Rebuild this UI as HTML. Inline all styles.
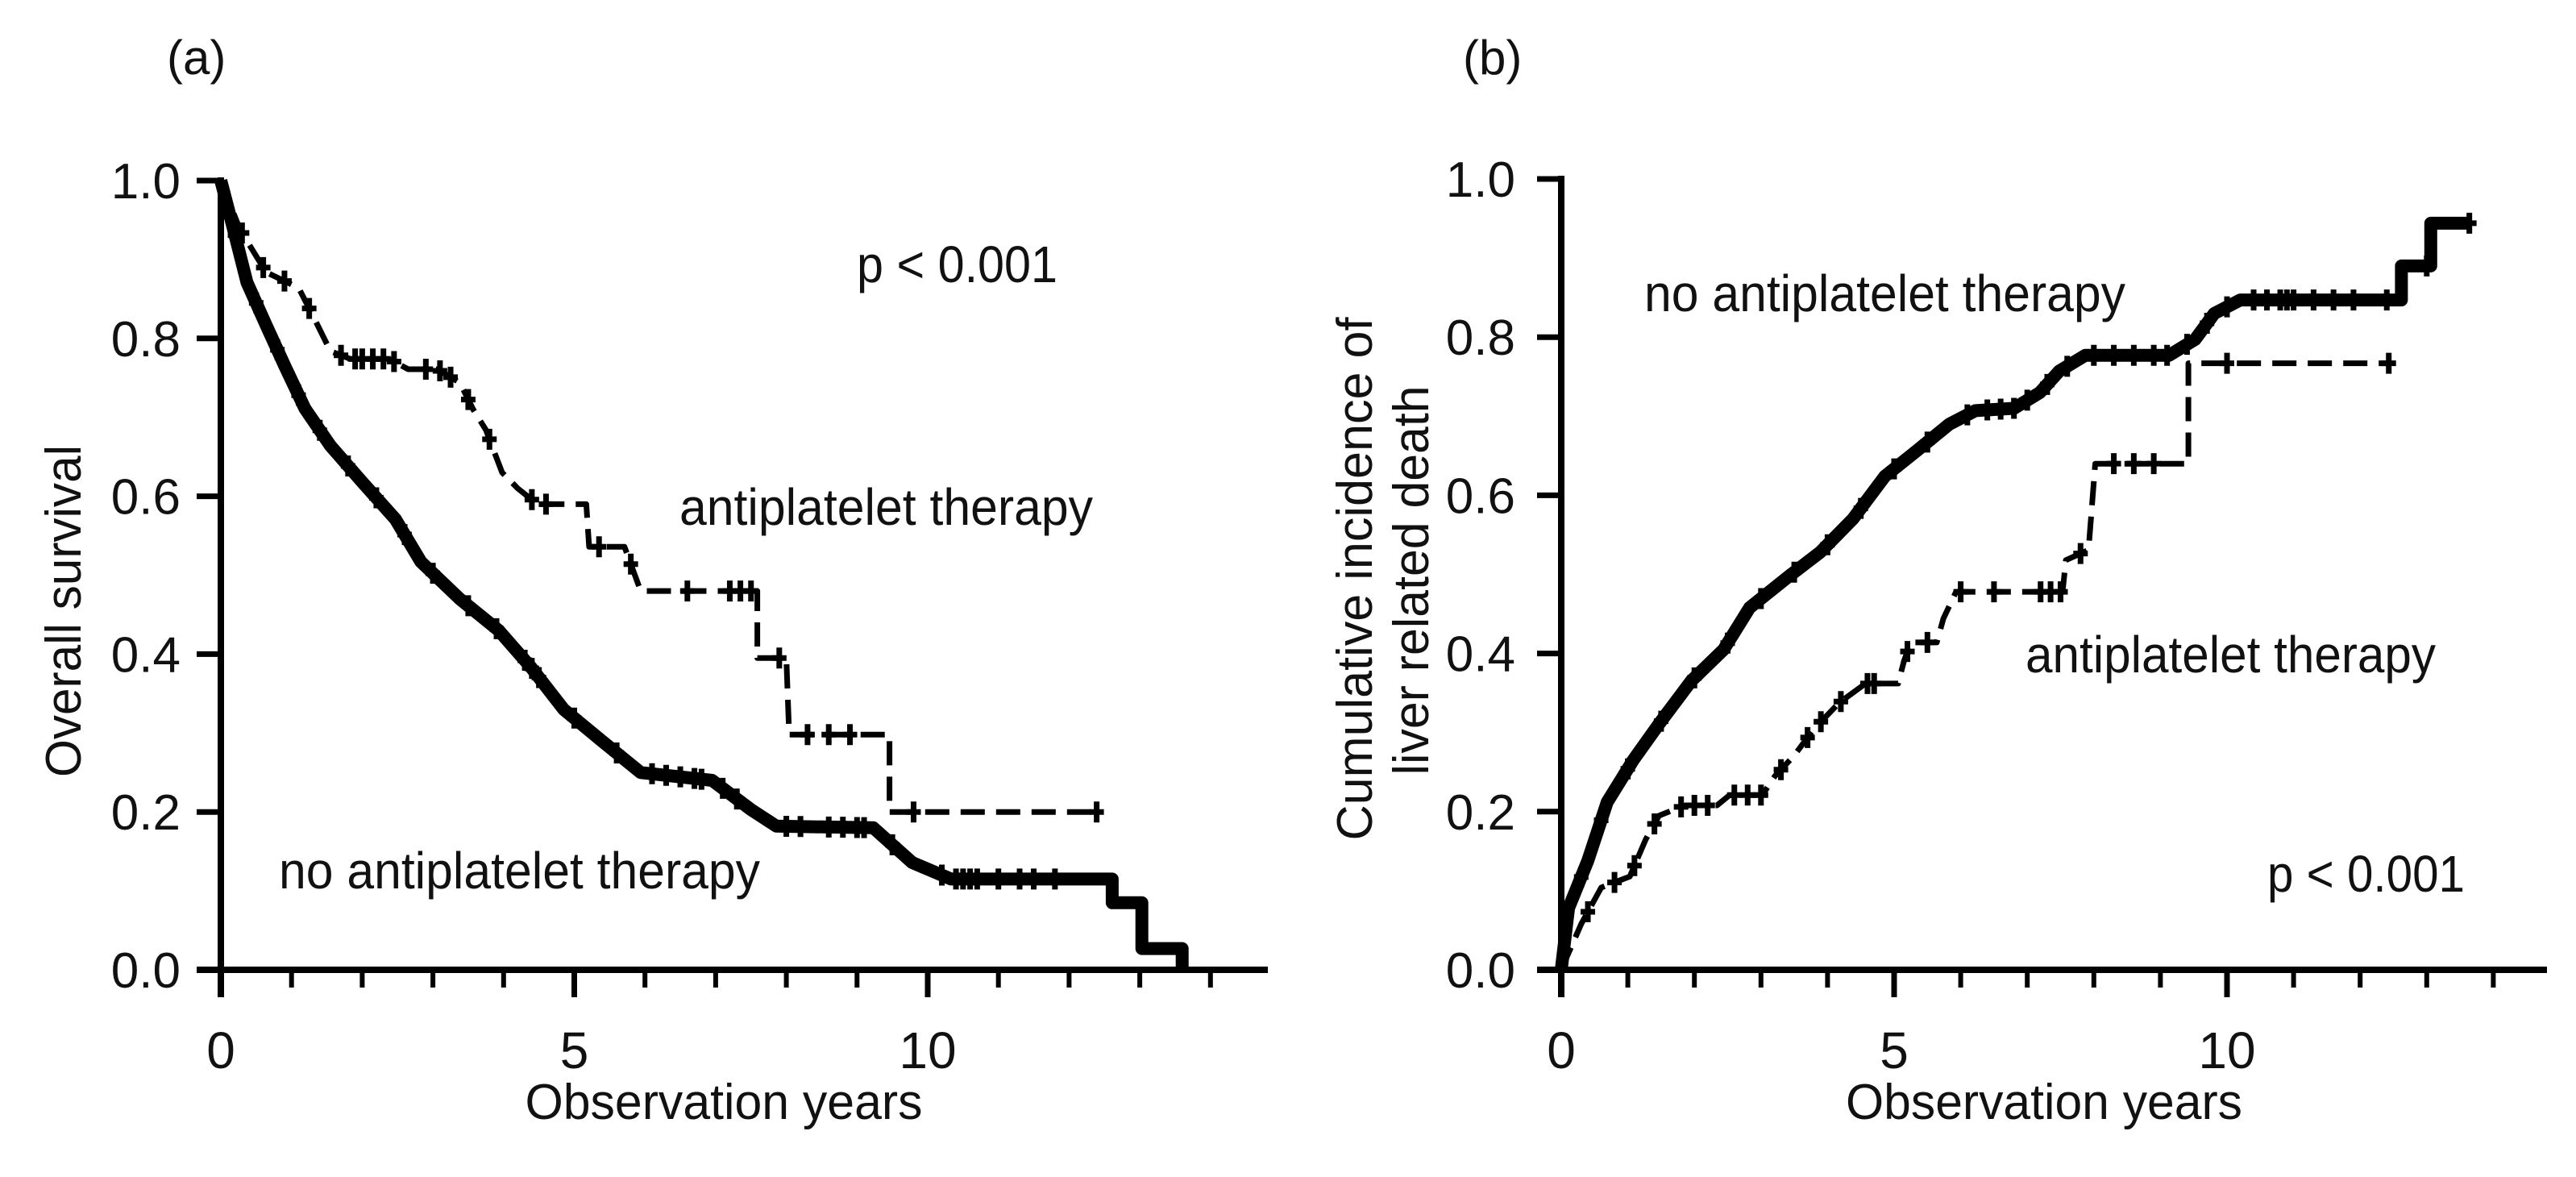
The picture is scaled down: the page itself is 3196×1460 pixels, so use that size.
<!DOCTYPE html>
<html><head><meta charset="utf-8"><style>
html,body{margin:0;padding:0;background:#fff;}
svg{display:block;font-family:"Liberation Sans",Arial,sans-serif;}
</style></head><body>
<svg id="fig" width="3196" height="1460" viewBox="0 0 3196 1460" xmlns="http://www.w3.org/2000/svg">
<rect width="3196" height="1460" fill="#fff"/>
<g id="pa"></g>
<g id="pb"></g>
</svg>
<script>
const yTicks=[0,0.2,0.4,0.6,0.8,1.0];
const yTickLabels=["0.0","0.2","0.4","0.6","0.8","1.0"];
const xMajor=[0,5,10];
const xMinor=[1,2,3,4,6,7,8,9,11,12,13,14];
// panel a: overall survival
const aAntiT=[0,0.27,0.64,1.1,1.33,1.55,1.83,2.38,2.65,3.06,3.38,3.57,3.75,3.98,4.2,4.48,5.17,5.21,5.71,5.94,7.59,7.59,8.0,8.04,9.46,9.46,12.39];
const aAntiV=[1.0,0.938,0.884,0.864,0.824,0.784,0.774,0.774,0.761,0.761,0.744,0.710,0.684,0.630,0.610,0.590,0.590,0.536,0.536,0.480,0.480,0.395,0.395,0.298,0.298,0.2,0.2];
const aAntiCens=[0.3,0.6,0.9,1.25,1.7,1.9,2.0,2.15,2.3,2.45,2.9,3.1,3.25,3.5,3.8,4.4,4.6,5.35,5.8,6.6,7.2,7.35,7.5,7.9,8.3,8.6,8.9,9.8,12.39];
const aNoT=[0,0.18,0.37,0.64,0.91,1.19,1.55,2.01,2.47,2.83,3.38,3.93,4.39,4.85,5.39,5.94,6.95,7.5,7.86,9.23,9.78,10.33,12.61,12.61,13.03,13.03,13.6,13.6];
const aNoV=[1.0,0.938,0.871,0.817,0.764,0.711,0.664,0.617,0.571,0.517,0.470,0.430,0.383,0.330,0.290,0.250,0.240,0.203,0.182,0.180,0.136,0.115,0.115,0.085,0.085,0.027,0.027,0];
const aNoCens=[0.2,0.5,0.8,1.1,1.4,1.8,2.2,2.6,3.0,3.5,3.9,4.3,4.4,4.5,5.0,5.6,6.1,6.3,6.5,6.7,6.8,7.1,7.3,8.0,8.2,8.6,8.8,9.0,9.1,9.5,10.2,10.4,10.5,10.6,10.7,11.0,11.3,11.5,11.8];
// panel b: cumulative incidence
const bNoT=[0,0.11,0.4,0.69,1.08,1.47,1.95,2.44,2.83,3.41,3.89,4.38,4.86,5.35,5.83,6.22,6.8,7.19,7.48,7.87,9.13,9.52,9.81,10.2,12.62,12.62,13.06,13.06,13.64];
const bNoV=[0,0.078,0.138,0.212,0.265,0.311,0.365,0.405,0.458,0.497,0.528,0.570,0.624,0.657,0.690,0.707,0.710,0.730,0.757,0.777,0.777,0.797,0.830,0.847,0.847,0.890,0.890,0.944,0.944];
const bNoCens=[0.3,0.6,1.0,1.5,2.0,2.5,3.0,3.5,4.0,4.5,5.0,5.5,6.1,6.4,6.6,6.8,7.0,7.3,7.6,8.0,8.3,8.6,8.9,9.1,9.4,9.7,10.0,10.4,10.6,10.8,10.9,11.0,11.3,11.6,11.9,12.4,13.0,13.64];
const bAntiT=[0,0.3,0.6,1.03,1.27,1.47,1.86,2.34,2.53,3.02,3.21,3.5,3.8,4.18,4.57,5.06,5.15,5.25,5.64,5.74,5.93,7.53,7.58,7.92,8.02,9.42,9.42,12.43];
const bAntiV=[0,0.058,0.104,0.118,0.165,0.195,0.208,0.208,0.221,0.221,0.245,0.271,0.305,0.338,0.362,0.362,0.391,0.414,0.414,0.444,0.478,0.478,0.518,0.531,0.640,0.640,0.767,0.767];
const bAntiCens=[0.4,0.8,1.1,1.4,1.8,2.0,2.2,2.6,2.8,3.0,3.3,3.7,3.9,4.2,4.6,4.7,5.2,5.5,6.0,6.5,7.2,7.35,7.5,7.8,8.3,8.6,8.9,10.0,12.43];

const NS="http://www.w3.org/2000/svg";
function mk(parent,tag,attrs,text){const e=document.createElementNS(NS,tag);for(const k in attrs)e.setAttribute(k,attrs[k]);if(text!==undefined)e.textContent=text;parent.appendChild(e);return e;}
function interp(T,V,t){for(let i=T.length-1;i>=0;i--){if(T[i]<=t){if(i===T.length-1)return V[i];const t0=T[i],t1=T[i+1];if(t1===t0)return V[i+1];return V[i]+(V[i+1]-V[i])*(t-t0)/(t1-t0);}}return V[0];}

function panel(g,cfg){
  const X=t=>cfg.x0+t*cfg.px;
  const Y=v=>cfg.y0-v*(cfg.y0-cfg.y1);
  // axes
  let e=mk(g,'line',{x1:cfg.x0,y1:Y(1)-4,x2:cfg.x0,y2:cfg.y0+34,stroke:'#000','stroke-width':8});
  
  e=mk(g,'line',{x1:cfg.x0-30,y1:cfg.y0,x2:cfg.xEnd,y2:cfg.y0,stroke:'#000','stroke-width':8});
  
  yTicks.forEach((v,i)=>{
    const t=mk(g,'line',{x1:cfg.x0-30,y1:Y(v),x2:cfg.x0,y2:Y(v),stroke:'#000','stroke-width':7});
    
    const l=mk(g,'text',{x:cfg.ylx,y:Y(v)+22,'text-anchor':'end','font-size':62,fill:'#111'},yTickLabels[i]);
    
  });
  xMajor.forEach(t=>{
    const k=mk(g,'line',{x1:X(t),y1:cfg.y0,x2:X(t),y2:cfg.y0+34,stroke:'#000','stroke-width':7});
    
    const l=mk(g,'text',{x:X(t),y:1325,'text-anchor':'middle','font-size':64,fill:'#111'},String(t));
    
  });
  xMinor.forEach(t=>{
    const k=mk(g,'line',{x1:X(t),y1:cfg.y0,x2:X(t),y2:cfg.y0+22,stroke:'#000','stroke-width':6});
    
  });
  // series
  cfg.series.forEach(s=>{
    const d=s.T.map((t,i)=>(i?'L':'M')+X(t).toFixed(1)+','+Y(s.V[i]).toFixed(1)).join('');
    const p=mk(g,'path',{d:d,fill:'none',stroke:'#000','stroke-width':s.w,'stroke-dasharray':s.dash||'none','stroke-linejoin':'round'});
    
    s.C.forEach(t=>{
      const cx=X(t),cy=Y(interp(s.T,s.V,t));
      const c=mk(g,'path',{d:`M${cx},${cy-13}V${cy+13}M${cx-9},${cy}H${cx+9}`,stroke:'#000','stroke-width':7});
      
    });
  });
}

const pa=document.getElementById('pa'), pb=document.getElementById('pb');
panel(pa,{x0:274,px:87.7,y0:1203,y1:224,xEnd:1573,ylx:224,series:[
  {name:'no-antiplatelet-curve',T:aNoT,V:aNoV,C:aNoCens,w:16},
  {name:'antiplatelet-curve',T:aAntiT,V:aAntiV,C:aAntiCens,w:7,dash:'30 14'}]});
panel(pb,{x0:1937,px:82.6,y0:1203,y1:222,xEnd:3160,ylx:1880,series:[
  {name:'no-antiplatelet-curve',T:bNoT,V:bNoV,C:bNoCens,w:16},
  {name:'antiplatelet-curve',T:bAntiT,V:bAntiV,C:bAntiCens,w:7,dash:'30 14'}]});

function txt(g,name,attrs,s){const t=mk(g,'text',Object.assign({fill:'#111'},attrs),s);return t;}
txt(pa,'panel-label',{x:207,y:92,'font-size':60},'(a)');
txt(pb,'panel-label',{x:1815,y:92,'font-size':60},'(b)');
txt(pa,'p-value',{x:1063,y:350,'font-size':64,textLength:249,lengthAdjust:'spacingAndGlyphs'},'p < 0.001');
txt(pa,'antiplatelet-label',{x:843,y:651,'font-size':64,textLength:513,lengthAdjust:'spacingAndGlyphs'},'antiplatelet therapy');
txt(pa,'no-antiplatelet-label',{x:346,y:1102,'font-size':64,textLength:597,lengthAdjust:'spacingAndGlyphs'},'no antiplatelet therapy');
txt(pb,'no-antiplatelet-label',{x:2040,y:386,'font-size':64,textLength:597,lengthAdjust:'spacingAndGlyphs'},'no antiplatelet therapy');
txt(pb,'antiplatelet-label',{x:2513,y:834,'font-size':64,textLength:509,lengthAdjust:'spacingAndGlyphs'},'antiplatelet therapy');
txt(pb,'p-value',{x:2813,y:1106,'font-size':64,textLength:245,lengthAdjust:'spacingAndGlyphs'},'p < 0.001');
txt(pa,'x-axis-title',{x:898,y:1388,'font-size':62,'text-anchor':'middle',textLength:493,lengthAdjust:'spacingAndGlyphs'},'Observation years');
txt(pb,'x-axis-title',{x:2536,y:1388,'font-size':62,'text-anchor':'middle',textLength:492,lengthAdjust:'spacingAndGlyphs'},'Observation years');
txt(pa,'y-axis-title',{x:0,y:0,'font-size':62,'text-anchor':'middle',transform:'translate(100,758) rotate(-90)',textLength:412,lengthAdjust:'spacingAndGlyphs'},'Overall survival');
txt(pb,'y-axis-title',{x:0,y:0,'font-size':62,'text-anchor':'middle',transform:'translate(1702,718) rotate(-90)',textLength:649,lengthAdjust:'spacingAndGlyphs'},'Cumulative incidence of');
txt(pb,'y-axis-title-line2',{x:0,y:0,'font-size':62,'text-anchor':'middle',transform:'translate(1772,720) rotate(-90)',textLength:483,lengthAdjust:'spacingAndGlyphs'},'liver related death');
</script>
</body></html>
